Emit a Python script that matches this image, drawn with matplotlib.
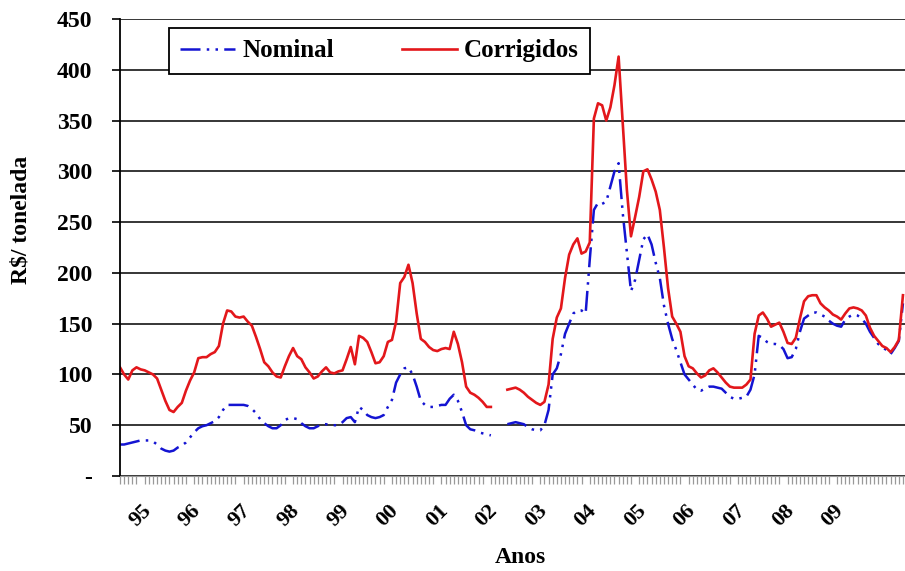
import numpy as np
import matplotlib.pyplot as plt

nan = np.nan

# monthly prices R$/t, Jan 1995 onwards
nominal = [31, 31, 32, 33, 34, 35, 35, 35, 34, 31, 27, 25,
           24, 25, 28, 30, 33, 38, 43, 47, 49, 50, 52, 54,
           58, 65, 70, 70, 70, 70, 70, 69, 66, 62, 56, 52,
           49, 47, 47, 50, 55, 57, 57, 56, 52, 49, 47, 47,
           49, 51, 51, 50, 50, 50, 53, 57, 58, 53, 68, 65,
           60, 58, 57, 58, 60, 68, 75, 92, 100, 106, 107, 100,
           88, 74, 70, 68, 68, 69, 70, 70, 76, 80, 74, 63,
           50, 46, 45, 43, 42, 41, 40, nan, nan, nan, 51, 52,
           53, 52, 51, 48, 46, 45, 45, 50, 65, 100, 106, 120,
           140, 150, 160, 163, 163, 160, 213, 262, 269, 268, 270, 285,
           300, 308, 259, 220, 182, 193, 213, 233, 238, 228, 210, 195,
           168, 150, 135, 124, 112, 100, 95, 90, 85, 84, 86, 88,
           88, 87, 86, 82, 78, 76, 76, 77, 78, 85, 100, 138,
           136, 132, 130, 130, 129, 125, 116, 117, 125, 142, 155, 158,
           161, 161, 159, 157, 153, 150, 148, 147, 154, 157, 159, 158,
           155, 150, 142, 136, 130, 127, 124, 120, 126, 133, 170]

corrigidos = [107, 100, 95, 104, 107, 105, 104, 102, 100, 96, 85, 74,
              65, 63, 68, 72, 84, 94, 102, 116, 117, 117, 120, 122,
              128, 150, 163, 162, 157, 156, 157, 152, 148, 137, 125, 112,
              108, 102, 98, 97, 108, 118, 126, 118, 115, 107, 102, 96,
              98, 103, 107, 102, 101, 103, 104, 115, 127, 110, 138, 136,
              132, 122, 111, 112, 118, 132, 134, 152, 190, 196, 208, 190,
              160, 135, 132, 127, 124, 123, 125, 126, 125, 142, 130, 112,
              88, 82, 80, 77, 73, 68, 68, nan, nan, nan, 85, 86,
              87, 85, 82, 78, 75, 72, 70, 73, 90, 135, 156, 165,
              195, 218, 228, 234, 219, 221, 230, 352, 367, 365, 350, 363,
              385, 413, 348, 282, 236, 255, 275, 300, 302, 292, 280, 262,
              225, 185, 157, 150, 142, 118, 108, 106, 101, 97, 99, 104,
              106, 102, 97, 92, 88, 87, 87, 87, 90, 95, 140, 158,
              161, 155, 147, 149, 151, 142, 131, 130, 136, 155, 172, 177,
              178, 178, 170, 166, 163, 159, 157, 154, 160, 165, 166, 165,
              163, 158, 146, 138, 133, 128, 126, 122, 127, 134, 178]

anos = ['95', '96', '97', '98', '99', '00', '01', '02',
        '03', '04', '05', '06', '07', '08', '09']

plt.rcParams['font.family'] = 'Liberation Serif'
plt.rcParams['font.weight'] = 'bold'

fig = plt.figure(figsize=(9.05, 5.71), dpi=100)
ax = fig.add_axes([0.1326, 0.1664, 0.8674, 0.8003])

meses = np.arange(len(nominal))
ax.plot(meses, nominal, color='#1414d2', lw=1.8,
        dashes=(8, 2.5, 1, 2.5, 1, 2.5), label='Nominal')
ax.plot(meses, corrigidos, color='#e3171b', lw=1.9, label='Corrigidos')

ax.set_xlim(0, 190.5)
ax.set_ylim(0, 450)
ax.set_yticks(range(0, 451, 50))
ax.set_yticklabels(['-'] + [str(v) for v in range(50, 451, 50)])
ax.yaxis.grid(True, color='black', lw=1.1)
ax.set_axisbelow(True)

ax.set_xticks([12 * i + 5 for i in range(len(anos))])
ax.set_xticklabels(anos, rotation=45, ha='center', va='top')
ax.set_xticks(np.arange(0, 191), minor=True)
ax.tick_params(axis='x', which='major', length=0, pad=18, labelsize=16)
ax.tick_params(axis='x', which='minor', length=6, color='#999999', width=0.9)
ax.tick_params(axis='y', length=6, width=1.2, pad=14, labelsize=17)

for s in ['top', 'right']:
    ax.spines[s].set_visible(False)
ax.spines['bottom'].set_color('#999999')
ax.spines['left'].set_linewidth(1.3)

ax.set_ylabel('R$/ tonelada', fontsize=17, fontweight='bold')
ax.yaxis.set_label_coords(-0.113, 0.56)
ax.set_xlabel('Anos', fontsize=17, fontweight='bold')
ax.xaxis.set_label_coords(0.51, -0.155)

leg = ax.legend(loc='upper left', bbox_to_anchor=(0.062, 0.98), ncol=2,
                fontsize=18, frameon=True, fancybox=False, borderaxespad=0,
                handlelength=2.2, columnspacing=2.7, borderpad=0.45,
                handletextpad=0.3)
leg.get_frame().set_edgecolor('black')
leg.get_frame().set_linewidth(1.3)
leg.get_frame().set_alpha(1)

fig.savefig('out.png', dpi=100)
